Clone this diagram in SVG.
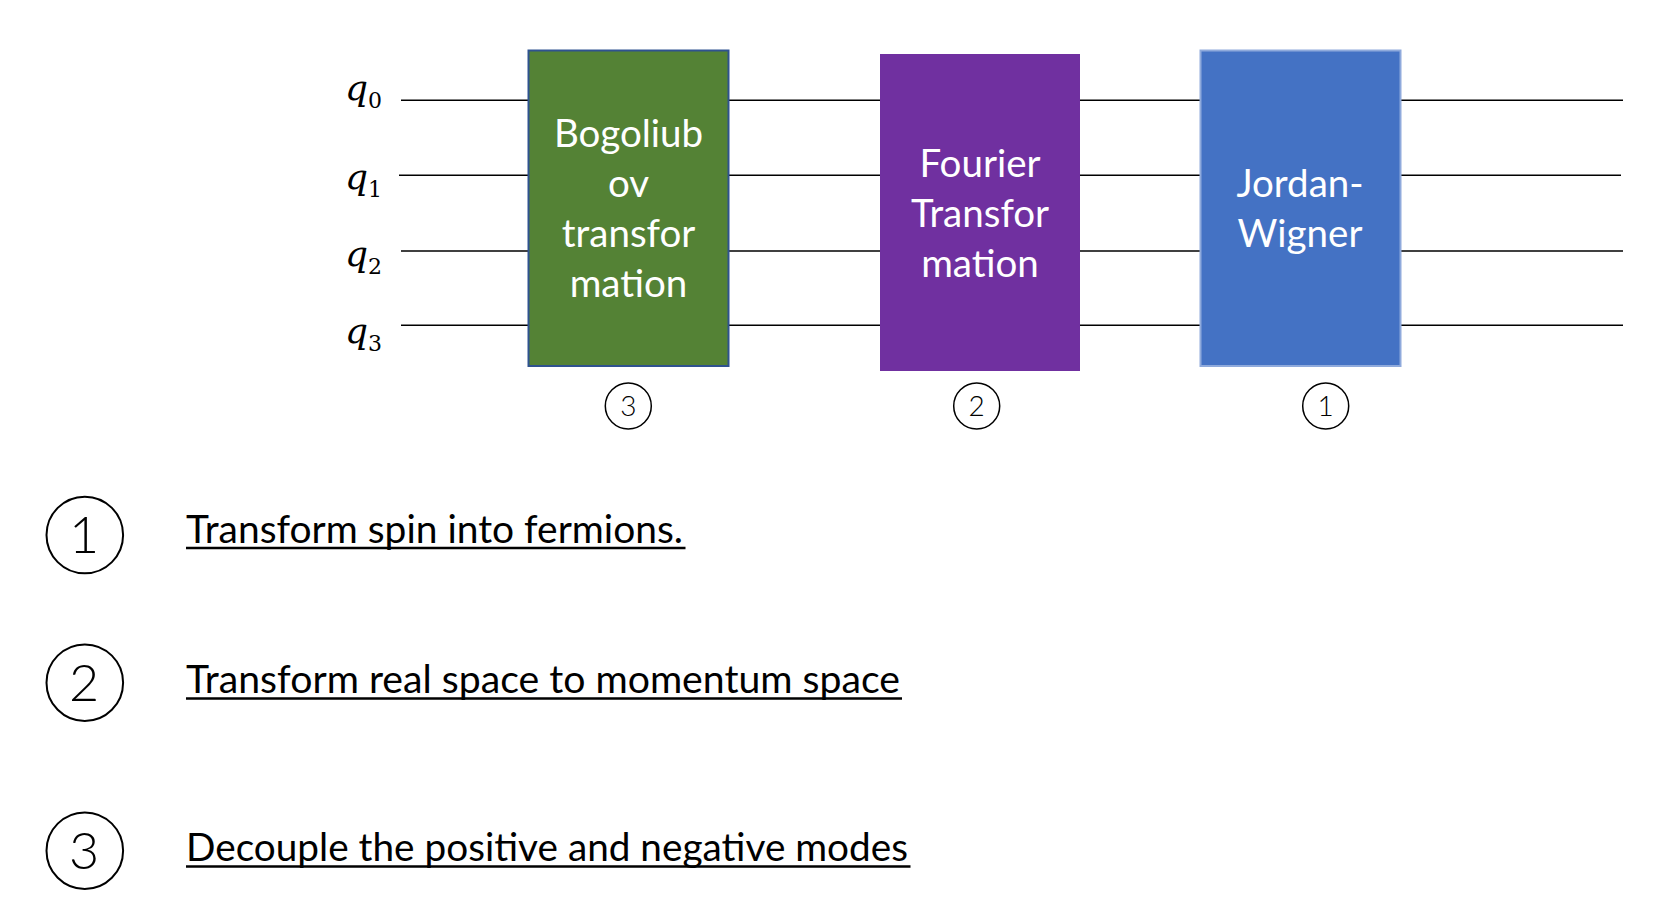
<svg xmlns="http://www.w3.org/2000/svg" width="1664" height="908" viewBox="0 0 1664 908">
<style>
.wire{stroke:#000;stroke-width:1.4;fill:none}
.q{font-family:"DejaVu Serif",serif;font-style:italic;font-size:36px;fill:#000}
.qs{font-family:"DejaVu Serif",serif;font-size:22px;font-style:normal}
.gt{font-family:Lato,"Open Sans",sans-serif;font-size:38.5px;fill:#fff;text-anchor:middle}
.sc{fill:#fff;stroke:#000;stroke-width:1.5}
.sd{font-family:Lato,sans-serif;font-weight:300;font-size:28px;fill:#000;text-anchor:middle}
.bc{fill:#fff;stroke:#000;stroke-width:2}
.bd{font-family:Lato,sans-serif;font-weight:300;font-size:52px;fill:#000;text-anchor:middle}
.lt{font-family:Lato,"Open Sans",sans-serif;font-size:39.2px;fill:#000}
.ul{stroke:#000;stroke-width:2.6}
</style>
<rect width="1664" height="908" fill="#fff"/>
<g id="connectors">
<line class="wire" x1="401" y1="100.3" x2="1623" y2="100.3"/>
<line class="wire" x1="399" y1="175.3" x2="1621" y2="175.3"/>
<line class="wire" x1="401" y1="251" x2="1623" y2="251"/>
<line class="wire" x1="401" y1="325.3" x2="1623" y2="325.3"/>
</g>
<g id="labels">
<text class="q" x="345" y="100">q<tspan class="qs" dy="8">0</tspan></text>
<text class="q" x="345" y="189">q<tspan class="qs" dy="8">1</tspan></text>
<text class="q" x="345" y="266">q<tspan class="qs" dy="8">2</tspan></text>
<text class="q" x="345" y="342.7">q<tspan class="qs" dy="8">3</tspan></text>
</g>
<g id="bogoliubov">
<rect x="528.5" y="50.5" width="200" height="315.5" fill="#548235" stroke="#2F528F" stroke-width="2"/>
<text class="gt" x="628.5" y="147.3">Bogoliub</text>
<text class="gt" x="628.5" y="197.3">ov</text>
<text class="gt" x="628.5" y="247.3">transfor</text>
<text class="gt" x="628.5" y="297.3">mation</text>
</g>
<g id="fourier">
<rect x="880" y="54" width="200" height="317" fill="#7030A0"/>
<text class="gt" x="980" y="176.7">Fourier</text>
<text class="gt" x="980" y="226.7">Transfor</text>
<text class="gt" x="980" y="276.7">mation</text>
</g>
<g id="jordan-wigner">
<rect x="1200.5" y="50.5" width="200" height="315.5" fill="#4472C4" stroke="#8FAADC" stroke-width="2"/>
<text class="gt" x="1300" y="196.7">Jordan-</text>
<text class="gt" x="1300" y="247">Wigner</text>
</g>
<g id="step3-marker">
<circle class="sc" cx="628.3" cy="406" r="23"/>
<text class="sd" x="628.3" y="416">3</text>
</g>
<g id="step2-marker">
<circle class="sc" cx="976.7" cy="406" r="23"/>
<text class="sd" x="976.7" y="416">2</text>
</g>
<g id="step1-marker">
<circle class="sc" cx="1325.7" cy="406" r="23"/>
<text class="sd" x="1325.7" y="416">1</text>
</g>
<g id="legend1">
<circle class="bc" cx="84.8" cy="535" r="38.3"/>
<text class="bd" x="84" y="553">1</text>
<text class="lt" x="186" y="543.3" textLength="497" lengthAdjust="spacingAndGlyphs">Transform spin into fermions.</text>
<line class="ul" x1="186" y1="548" x2="685.5" y2="548"/>
</g>
<g id="legend2">
<circle class="bc" cx="84.8" cy="682.7" r="38.3"/>
<text class="bd" x="84" y="701">2</text>
<text class="lt" x="186" y="692.5" textLength="714" lengthAdjust="spacingAndGlyphs">Transform real space to momentum space</text>
<line class="ul" x1="186" y1="698.5" x2="902" y2="698.5"/>
</g>
<g id="legend3">
<circle class="bc" cx="84.8" cy="850.7" r="38.3"/>
<text class="bd" x="84" y="869">3</text>
<text class="lt" x="186" y="861" textLength="722" lengthAdjust="spacingAndGlyphs">Decouple the positive and negative modes</text>
<line class="ul" x1="186" y1="866.5" x2="910.5" y2="866.5"/>
</g>
</svg>
